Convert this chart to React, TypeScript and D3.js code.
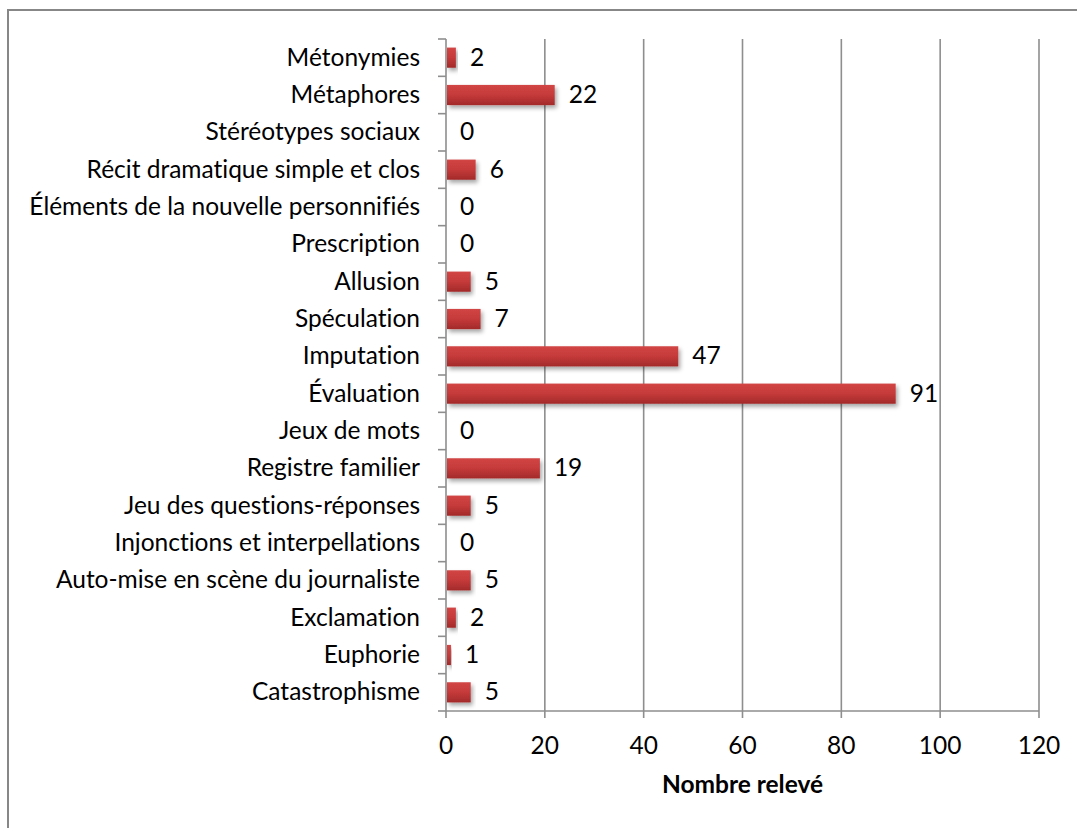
import React from "react";
import * as d3 from "d3";

// Categories, top to bottom, and their counts
const categories: string[] = [
  "Métonymies",
  "Métaphores",
  "Stéréotypes sociaux",
  "Récit dramatique simple et clos",
  "Éléments de la nouvelle personnifiés",
  "Prescription",
  "Allusion",
  "Spéculation",
  "Imputation",
  "Évaluation",
  "Jeux de mots",
  "Registre familier",
  "Jeu des questions-réponses",
  "Injonctions et interpellations",
  "Auto-mise en scène du journaliste",
  "Exclamation",
  "Euphorie",
  "Catastrophisme",
];
const counts: number[] = [2, 22, 0, 6, 0, 0, 5, 7, 47, 91, 0, 19, 5, 0, 5, 2, 1, 5];
const xTicks: number[] = [0, 20, 40, 60, 80, 100, 120];
const xTitle = "Nombre relevé";

const W = 1077;
const H = 828;
const FONT = "Lato, 'Open Sans', sans-serif";
const FS = 24.5;
const GRID = "#8e8e8e";

export default function App() {
  const x = d3.scaleLinear().domain([0, 120]).range([446, 1039]);
  const y = d3
    .scaleBand<string>()
    .domain(categories)
    .range([39, 711])
    .paddingInner(0.46)
    .paddingOuter(0.23);
  const [y0, y1] = y.range();
  const step = y.step();
  const bounds = d3.range(categories.length + 1).map((i) => y0 + i * step);

  return (
    <svg
      width={W}
      height={H}
      style={{
        position: "absolute",
        left: 0,
        top: 0,
        background: "#fff",
        fontVariantLigatures: "none",
      }}
      fontFamily={FONT}
    >
      <defs>
        <linearGradient id="barFill" x1="0" y1="0" x2="0" y2="1">
          <stop offset="0" stopColor="#d24545" />
          <stop offset="0.5" stopColor="#c53a3a" />
          <stop offset="1" stopColor="#a32a2a" />
        </linearGradient>
        <filter id="barShadow" x="-20%" y="-30%" width="140%" height="190%">
          <feDropShadow dx="2" dy="3" stdDeviation="2" floodColor="#000" floodOpacity="0.35" />
        </filter>
      </defs>

      {/* chart frame */}
      <rect x={8} y={10} width={1200} height={900} fill="none" stroke="#878787" strokeWidth={2} />

      {/* vertical gridlines and x ticks */}
      {xTicks.map((t) => (
        <g key={t}>
          {t !== 0 && (
            <line x1={x(t)} x2={x(t)} y1={y0} y2={y1} stroke={GRID} strokeWidth={1.6} />
          )}
          <line x1={x(t)} x2={x(t)} y1={y1} y2={y1 + 7} stroke={GRID} strokeWidth={1.6} />
          <text x={x(t)} y={754} textAnchor="middle" fontSize={FS} fill="#000">
            {t}
          </text>
        </g>
      ))}

      {/* category axis */}
      <line x1={x(0)} x2={x(0)} y1={y0} y2={y1} stroke={GRID} strokeWidth={1.6} />
      {bounds.map((b, i) => (
        <line key={i} x1={x(0) - 8} x2={x(0)} y1={b} y2={b} stroke={GRID} strokeWidth={1.6} />
      ))}
      {/* value axis */}
      <line x1={x(0)} x2={x(120)} y1={y1} y2={y1} stroke={GRID} strokeWidth={1.6} />

      {/* bars */}
      {categories.map((c, i) =>
        counts[i] > 0 ? (
          <rect
            key={c}
            x={x(0) + 1}
            y={y(c)}
            width={x(counts[i]) - x(0) - 1}
            height={y.bandwidth()}
            fill="url(#barFill)"
            filter="url(#barShadow)"
          />
        ) : null
      )}

      {/* category labels */}
      {categories.map((c) => (
        <text
          key={c}
          x={420}
          y={(y(c) ?? 0) + y.bandwidth() / 2 + 8}
          textAnchor="end"
          fontSize={FS}
          fill="#000"
        >
          {c}
        </text>
      ))}

      {/* value labels */}
      {categories.map((c, i) => (
        <text
          key={c}
          x={x(counts[i]) + 14}
          y={(y(c) ?? 0) + y.bandwidth() / 2 + 8}
          textAnchor="start"
          fontSize={FS}
          fill="#000"
        >
          {counts[i]}
        </text>
      ))}

      {/* axis title */}
      <text
        x={(x(0) + x(120)) / 2}
        y={793}
        textAnchor="middle"
        fontSize={FS}
        fontWeight="bold"
        fill="#000"
      >
        {xTitle}
      </text>
    </svg>
  );
}
